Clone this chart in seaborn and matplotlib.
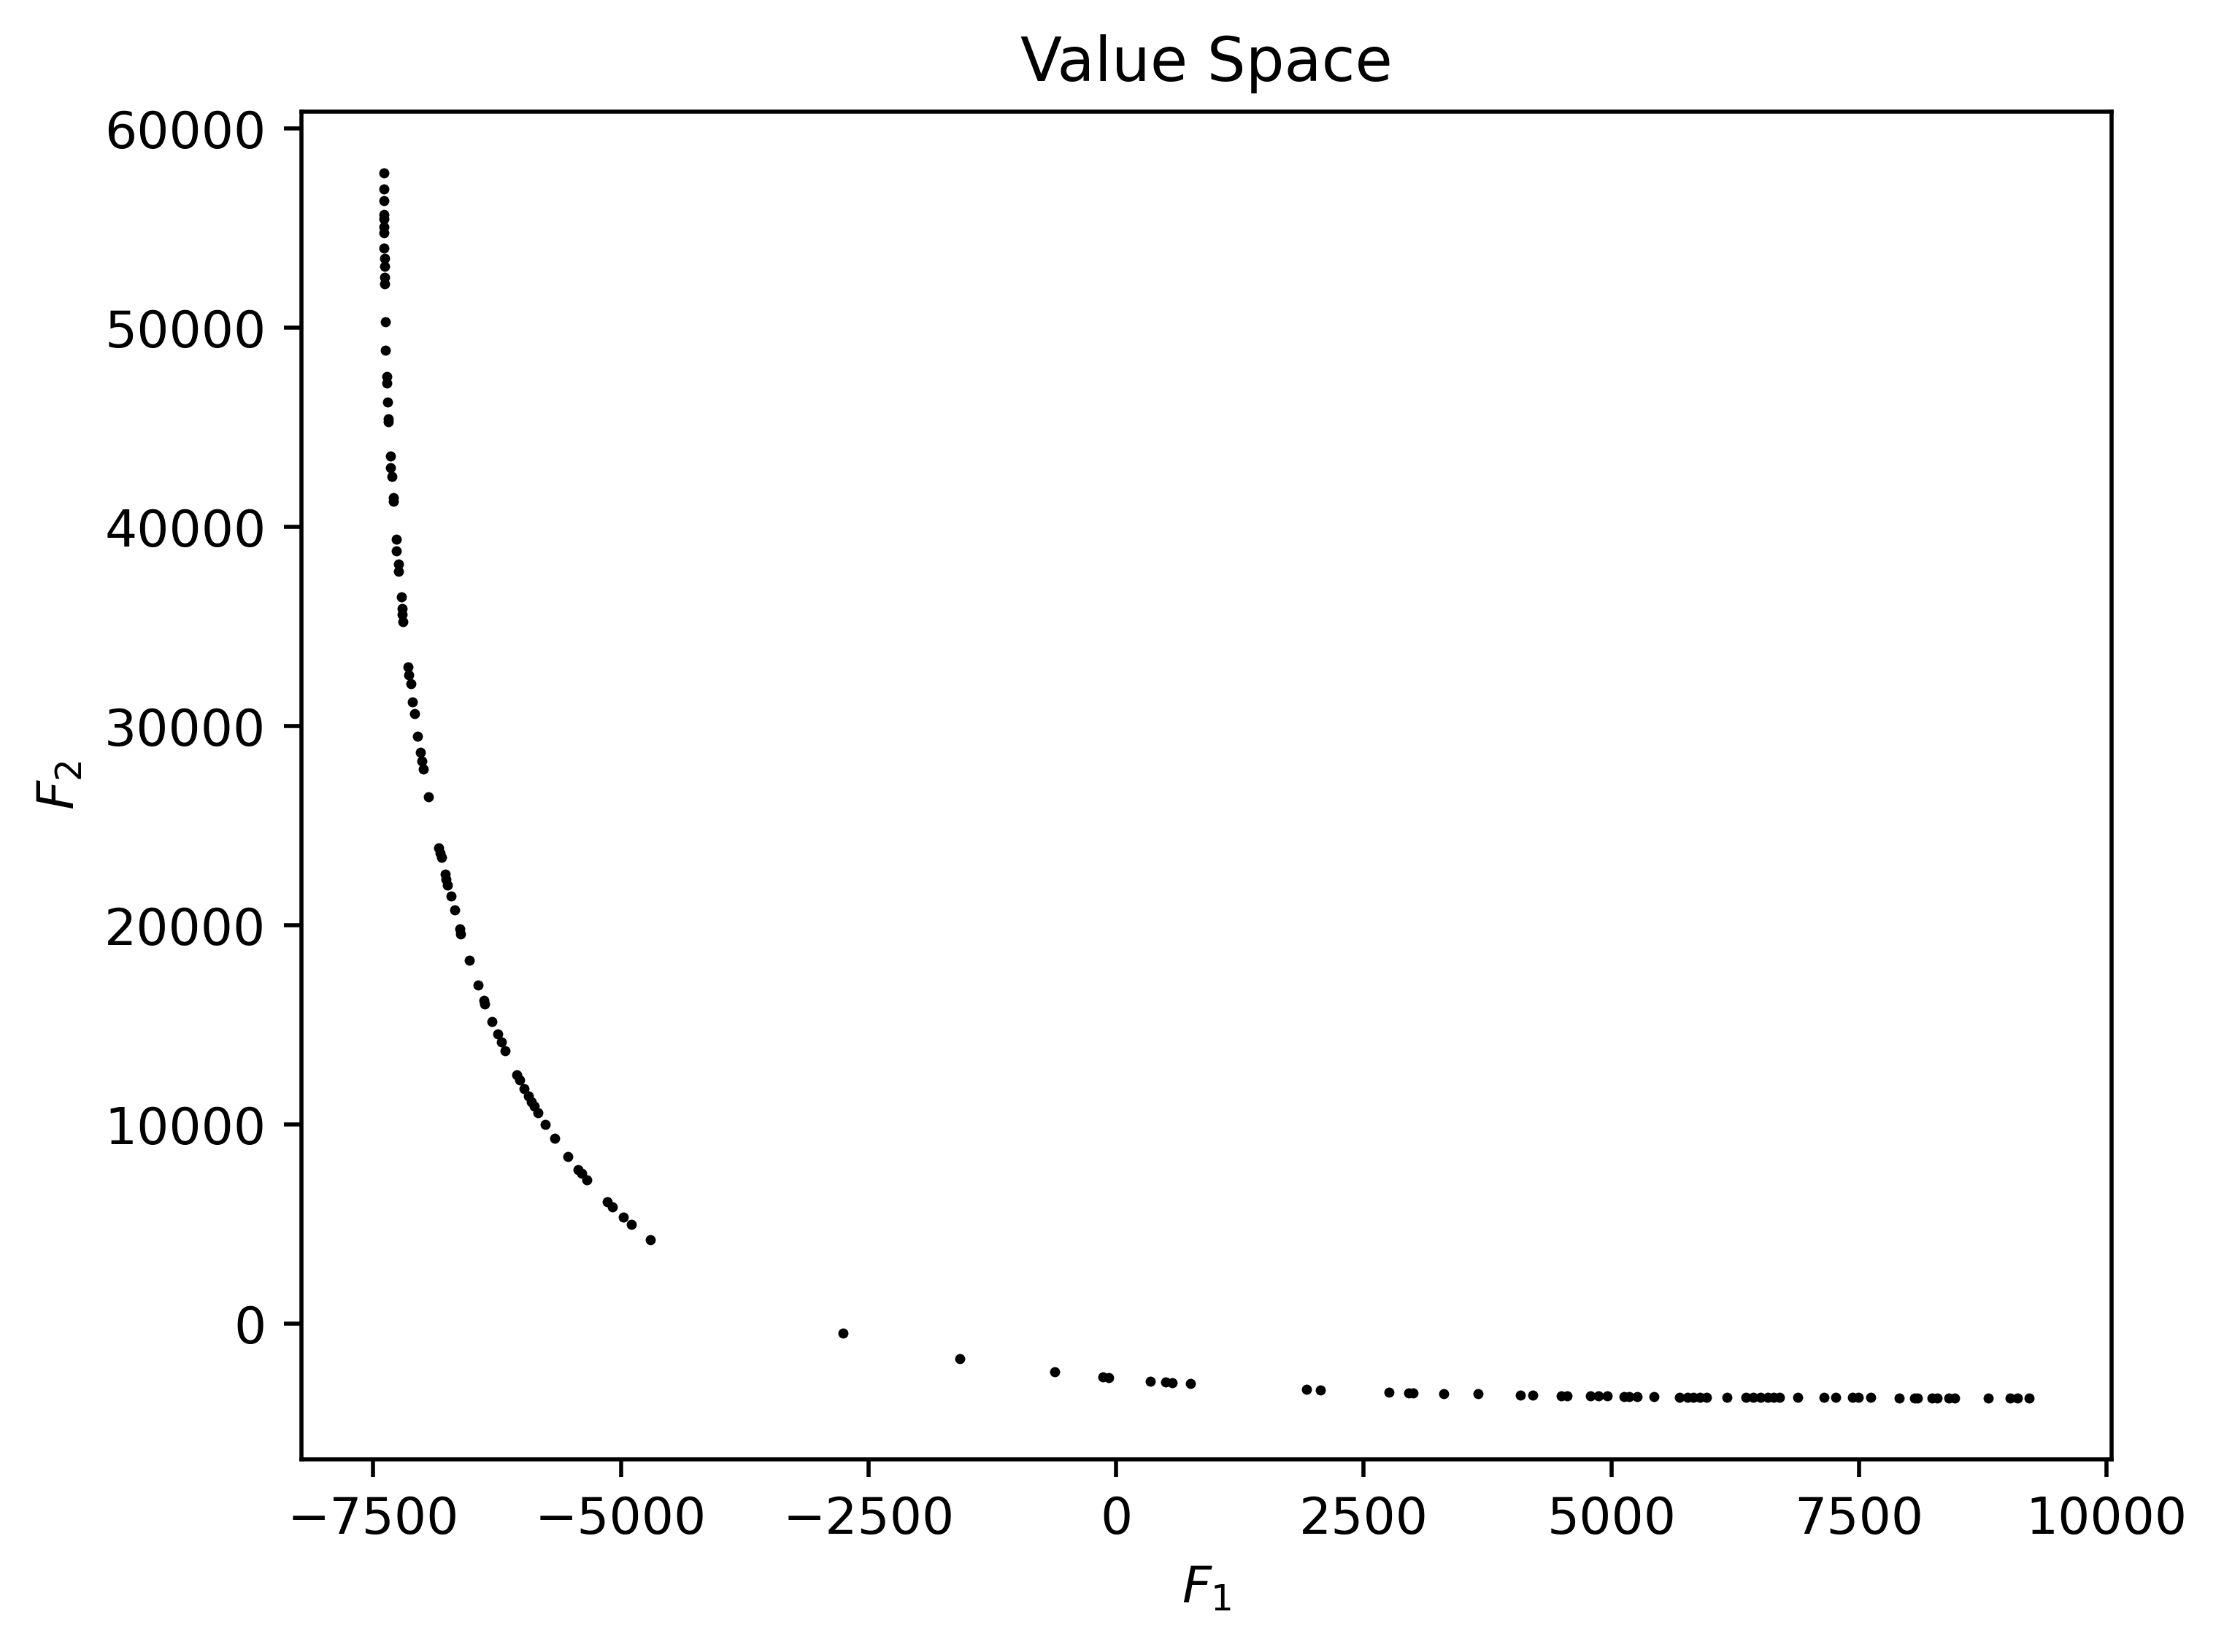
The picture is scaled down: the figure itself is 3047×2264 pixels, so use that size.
import matplotlib
matplotlib.use("Agg")
import matplotlib.pyplot as plt
import seaborn as sns
import pandas as pd

# objective values
f1_upper = [-7394, -7394, -7394, -7394, -7394, -7394, -7394, -7394, -7385, -7385,
            -7385, -7385, -7379, -7374, -7360, -7360, -7352, -7346, -7346, -7326,
            -7323, -7312, -7298, -7298, -7270, -7264, -7247, -7242, -7216, -7208,
            -7205, -7197, -7146, -7138, -7123, -7101, -7086, -7050, -7021]
f2_upper = [57773, 56975, 56368, 55672, 55464, 55043, 54772, 53993, 53469, 53089,
            52521, 52206, 50318, 48887, 47543, 47207, 46281, 45443, 45275, 43573,
            42962, 42545, 41491, 41282, 39390, 38804, 38131, 37772, 36491, 35924,
            35609, 35232, 32963, 32564, 32143, 31216, 30649, 29497, 28677]

f1_knee = [-7007, -6996, -6945, -6838, -6824, -6809, -6775, -6767, -6753, -6716,
           -6677, -6629, -6617, -6533, -6443, -6386, -6375, -6302, -6245, -6206,
           -6169, -6053, -6025, -5977, -5935, -5907, -5873, -5839, -5765, -5666,
           -5536, -5432, -5398, -5342, -5139, -5082, -4978, -4896, -4702]
f2_knee = [28240, 27864, 26466, 23907, 23625, 23402, 22560, 22318, 22040, 21480,
           20770, 19837, 19574, 18267, 16997, 16250, 16064, 15167, 14570, 14139,
           13710, 12517, 12236, 11825, 11434, 11152, 10929, 10610, 10032, 9322,
           8407, 7755, 7569, 7232, 6149, 5867, 5366, 5011, 4242]

f1_lower = [-2757, -1576, -617, -132, -75, 348, 499, 564, 752, 1919,
            2065, 2752, 2950, 2995, 3307, 3656, 4081, 4206, 4491, 4553,
            4789, 4873, 4958, 5128, 5182, 5261, 5433, 5691, 5765, 5831,
            5895, 5961, 6170, 6355, 6429, 6502, 6576, 6638, 6699, 6883,
            7147, 7264, 7436, 7493, 7616, 7903, 8060, 8093, 8235, 8289,
            8408, 8469, 8801, 9022, 9096, 9219]
f2_lower = [-451, -1733, -2416, -2660, -2697, -2867, -2916, -2953, -2990, -3270,
            -3319, -3429, -3450, -3455, -3489, -3514, -3575, -3575, -3599, -3599,
            -3612, -3612, -3612, -3636, -3636, -3636, -3660, -3665, -3665, -3670,
            -3670, -3670, -3675, -3680, -3680, -3680, -3685, -3685, -3685, -3690,
            -3695, -3695, -3700, -3700, -3700, -3710, -3710, -3712, -3715, -3715,
            -3718, -3718, -3720, -3721, -3721, -3721]

df = pd.DataFrame({
    "F1": f1_upper + f1_knee + f1_lower,
    "F2": f2_upper + f2_knee + f2_lower,
})

fig = plt.figure(figsize=(3047 / 500, 2264 / 500), dpi=500)
ax = fig.add_axes([413 / 3047, 1 - 2000 / 2264, 2480 / 3047, 1847 / 2264])
sns.scatterplot(data=df, x="F1", y="F2", color="black", s=4, linewidth=0, ax=ax)

ax.set_title("Value Space")
ax.set_xlabel("$F_1$")
ax.set_ylabel("$F_2$")

fig.savefig("out.png", dpi=500)
